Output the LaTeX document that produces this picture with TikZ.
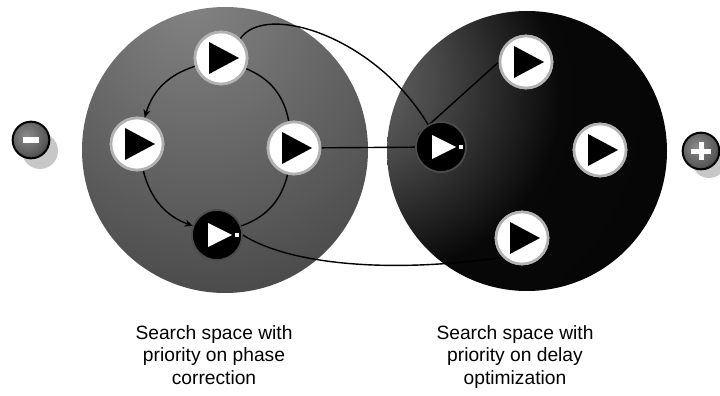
\documentclass[tikz,border=0pt]{standalone}
\usepackage{fontspec}
\setmainfont{Liberation Sans}
\usetikzlibrary{arrows.meta}

% shaded discs for the two search spaces
\pgfdeclareradialshading{leftdisc}{\pgfpoint{-6bp}{28bp}}{%
  color(0bp)=(black!48); color(30bp)=(black!64); color(55bp)=(black!78); color(100bp)=(black!85)}
\pgfdeclareradialshading{rightdisc}{\pgfpoint{-38bp}{15bp}}{%
  color(0bp)=(black!52); color(16bp)=(black!72); color(32bp)=(black!97); color(100bp)=(black)}
\pgfdeclareradialshading{knob}{\pgfpoint{-6bp}{6bp}}{%
  color(0bp)=(black!45); color(25bp)=(black!65); color(45bp)=(black); color(100bp)=(black)}

\tikzset{
  playw/.style={circle, fill=white, draw=black!30, line width=0.08cm, minimum size=1.56cm, inner sep=0pt},
  playd/.style={circle, fill=black, draw=black!70, line width=0.05cm, minimum size=1.5cm, inner sep=0pt},
  knobnode/.style={circle, shading=knob, draw=black, line width=0.06cm, minimum size=1.1cm, inner sep=0pt},
  conn/.style={draw=black, line width=1.2pt},
  tip/.style={-{Stealth[length=7pt,width=6pt]}},
  caption/.style={align=center, font=\fontsize{16.4}{19.5}\selectfont, inner sep=0pt}
}

\begin{document}
\begin{tikzpicture}[x=0.03cm, y=-0.03cm]
  \useasboundingbox (0,0) rectangle (720,396);

  % the two search spaces
  \shade[shading=leftdisc] (225,150) circle (143);
  \shade[shading=rightdisc] (527,151) circle (140);

  % minus / plus knobs with their soft shadows
  \fill[black!22] (40,151) circle (18);
  \fill[black!22] (709,161) circle (17);
  \node[knobnode] (minus) at (31,140) {};
  \node[knobnode] (plus) at (701,151) {};
  \fill[white] ([shift={(-8,-2.5)}]minus.center) rectangle ([shift={(8,2.5)}]minus.center);
  \fill[white] ([shift={(-10,-2.5)}]plus.center) rectangle ([shift={(10,2.5)}]plus.center);
  \fill[white] ([shift={(-2.5,-9)}]plus.center) rectangle ([shift={(2.5,9)}]plus.center);

  % steps of the first search space
  \node[playw] (lt) at (221,58) {};
  \node[playw] (ll) at (137,144) {};
  \node[playw] (lr) at (294,148) {};
  \node[playd] (lb) at (217,235) {};

  % steps of the second search space
  \node[playd] (rl) at (441,147) {};
  \node[playw] (rt) at (526,62) {};
  \node[playw] (rr) at (600,150) {};
  \node[playw] (rb) at (522,238) {};

  % transitions inside the first space
  \draw[conn, tip] (lt) to[bend right=28] (ll);
  \draw[conn] (lt) to[bend left=28] (lr);
  \draw[conn, tip] (ll) to[bend right=28] (lb);
  \draw[conn] (lr) to[bend left=28] (lb);

  % links between the two spaces
  \draw[conn] (lr) -- (rl);
  \draw[conn] (lt.north east) .. controls (265,2) and (375,36) .. (rl.120);
  \draw[conn] (lb.east) .. controls (285,262) and (380,275) .. (rb.south west);
  \draw[conn] (rl.150) -- (rt.west);

  % redraw the step markers on top of the links
  \foreach \n in {lt,ll,lr,rt,rr,rb}{
    \node[playw] at (\n) {};
    \fill[black] ([shift={(-12,-16)}]\n.center) -- ([shift={(18,0)}]\n.center)
      -- ([shift={(-12,16)}]\n.center) -- cycle;
  }
  \foreach \n in {lb,rl}{
    \node[playd] at (\n) {};
    \fill[white] ([shift={(-9,-12)}]\n.center) -- ([shift={(15,0)}]\n.center)
      -- ([shift={(-9,12)}]\n.center) -- cycle;
    \fill[white] ([shift={(18,-2)}]\n.center) rectangle ([shift={(22,2)}]\n.center);
  }

  % captions
  \node[caption] (capl) at (214,355) {Search space with\\priority on phase\\correction};
  \node[caption] (capr) at (515,357) {Search space with\\priority on delay\\optimization};
\end{tikzpicture}
\end{document}
